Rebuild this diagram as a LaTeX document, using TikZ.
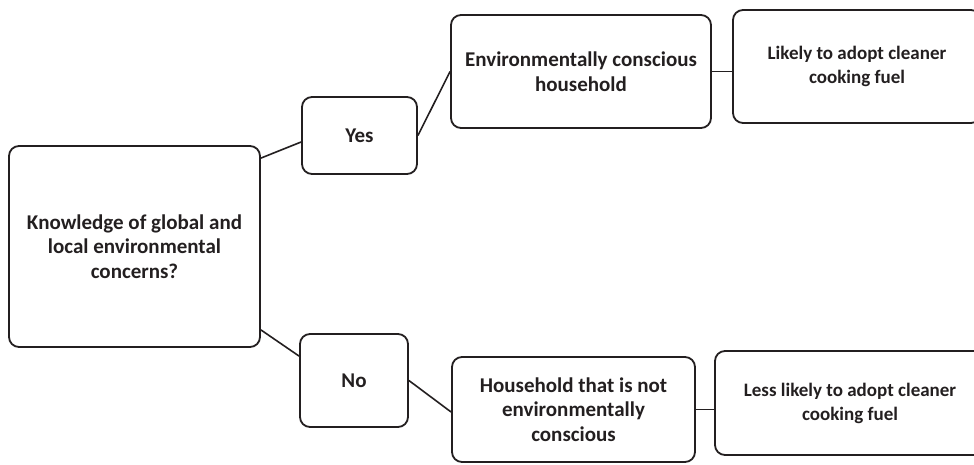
\documentclass[tikz,border=0pt]{standalone}
\usepackage{fontspec}
\setmainfont{Carlito}
\usetikzlibrary{calc}
\definecolor{ink}{HTML}{231F20}
\tikzset{
  box/.style={draw=ink, line width=1.8pt, rounded corners=10pt, align=center,
    text=ink, font=\bfseries\fontsize{21}{24.5}\selectfont, inner sep=0pt},
  smallbox/.style={box, font=\bfseries\fontsize{19}{24}\selectfont},
  link/.style={draw=ink, line width=1.6pt}
}
\begin{document}
\begin{tikzpicture}[x=1pt,y=-1pt]
\path[use as bounding box] (0,0) rectangle (974,464);
\clip (0,0) rectangle (974,464);
\node[box, minimum width=251pt, minimum height=201pt] (q) at (134.5,246.5)
  {Knowledge of global and\\local environmental\\concerns?};
\node[box, minimum width=115pt, minimum height=77pt] (yes) at (359.5,135.5) {Yes};
\node[box, minimum width=260pt, minimum height=113pt] (env) at (581,71.5)
  {Environmentally conscious\\household};
\node[smallbox, minimum width=248pt, minimum height=113pt] (lik) at (857,66.5)
  {Likely to adopt cleaner\\cooking fuel};
\node[box, minimum width=108pt, minimum height=93pt] (no) at (354,380.5) {No};
\node[box, minimum width=243pt, minimum height=105pt] (hh) at (573.5,409.5)
  {Household that is not\\environmentally\\conscious};
\node[smallbox, minimum width=270pt, minimum height=104pt] (less) at (850,403)
  {Less likely to adopt cleaner\\cooking fuel};
\path[link] ($(q.north east)+(0,13)$) -- ($(yes.west)+(0,6.5)$);
\path[link] (yes.east) -- (env.west);
\path[link] ($(q.south east)+(0,-18)$) -- ($(no.north west)+(0,23)$);
\path[link] (no.east) -- ($(hh.west)+(0,2.5)$);
\path[link] (env.east) -- (env.east -| lik.west);
\path[link] (hh.east) -- (hh.east -| less.west);
\end{tikzpicture}
\end{document}
